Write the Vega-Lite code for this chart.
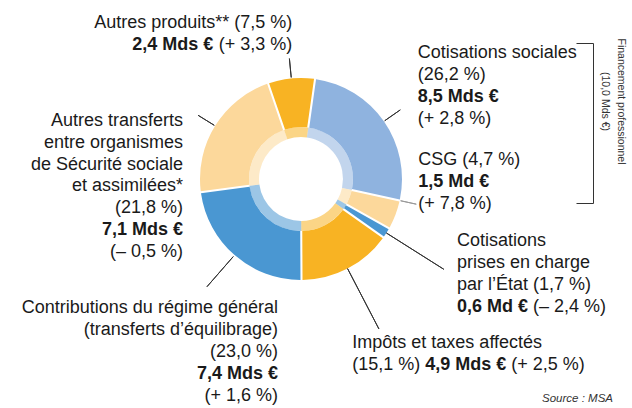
{
  "$schema": "https://vega.github.io/schema/vega-lite/v6.json",
  "width": 602,
  "height": 358,
  "autosize": "none",
  "padding": {"left": 0, "top": 0, "right": 30, "bottom": 50},
  "background": "#ffffff",
  "config": {
    "view": {"stroke": null},
    "text": {"font": "Liberation Sans", "fontSize": 18, "color": "#1a1a1a", "lineHeight": 22}
  },
  "title": {
    "text": "Source : MSA",
    "orient": "bottom",
    "anchor": "end",
    "frame": "group",
    "font": "Liberation Sans",
    "fontSize": 11.5,
    "fontStyle": "italic",
    "fontWeight": "normal",
    "color": "#333333",
    "offset": -39,
    "dx": 11
  },
  "data": {
    "values": [
      {"n": 1, "cat": "Cotisations sociales", "share": 26.2, "amount": 8.5, "label": "Cotisations sociales\n(26,2 %)", "amountText": "8,5 Mds €", "change": "(+ 2,8 %)"},
      {"n": 2, "cat": "CSG", "share": 4.7, "amount": 1.5, "label": "CSG (4,7 %)", "amountText": "1,5 Md €", "change": "(+ 7,8 %)"},
      {"n": 3, "cat": "Cotisations prises en charge par l’État", "share": 1.7, "amount": 0.6, "label": "Cotisations\nprises en charge\npar l’État (1,7 %)", "amountText": "0,6 Md €", "change": "(– 2,4 %)"},
      {"n": 4, "cat": "Impôts et taxes affectés", "share": 15.1, "amount": 4.9, "label": "Impôts et taxes affectés\n(15,1 %)", "amountText": "4,9 Mds €", "change": "(+ 2,5 %)"},
      {"n": 5, "cat": "Contributions du régime général", "share": 23.0, "amount": 7.4, "label": "Contributions du régime général\n(transferts d’équilibrage)\n(23,0 %)", "amountText": "7,4 Mds €", "change": "(+ 1,6 %)"},
      {"n": 6, "cat": "Autres transferts entre organismes de Sécurité sociale et assimilées", "share": 21.8, "amount": 7.1, "label": "Autres transferts\nentre organismes\nde Sécurité sociale\net assimilées*\n(21,8 %)", "amountText": "7,1 Mds €", "change": "(– 0,5 %)"},
      {"n": 7, "cat": "Autres produits", "share": 7.5, "amount": 2.4, "label": "Autres produits** (7,5 %)", "amountText": "2,4 Mds €", "change": "(+ 3,3 %)"}
    ]
  },
  "layer": [
    {
      "encoding": {
        "theta": {"field": "share", "type": "quantitative", "stack": true, "scale": {"domain": [0, 100], "range": [0.13963, 6.42282]}},
        "order": {"field": "n", "type": "quantitative"}
      },
      "layer": [
        {
          "mark": {"type": "arc", "innerRadius": 42, "outerRadius": 52, "opacity": 0.55},
          "encoding": {
            "color": {"field": "cat", "type": "nominal", "legend": null,
              "scale": {
                "domain": ["Cotisations sociales", "CSG", "Cotisations prises en charge par l’État", "Impôts et taxes affectés", "Contributions du régime général", "Autres transferts entre organismes de Sécurité sociale et assimilées", "Autres produits"],
                "range": ["#8fb3df", "#fcd89b", "#4a97d2", "#f8b323", "#4a97d2", "#fcd89b", "#f8b323"]
              }}
          }
        },
        {
          "mark": {"type": "arc", "innerRadius": 52, "outerRadius": 101, "padAngle": 0.018},
          "encoding": {
            "color": {"field": "cat", "type": "nominal", "legend": null,
              "scale": {
                "domain": ["Cotisations sociales", "CSG", "Cotisations prises en charge par l’État", "Impôts et taxes affectés", "Contributions du régime général", "Autres transferts entre organismes de Sécurité sociale et assimilées", "Autres produits"],
                "range": ["#8fb3df", "#fcd89b", "#4a97d2", "#f8b323", "#4a97d2", "#fcd89b", "#f8b323"]
              }}
          }
        },
        {
          "mark": {"type": "arc", "innerRadius": 102, "outerRadius": 121, "padAngle": 3.1, "fillOpacity": 0, "stroke": "#333333", "strokeWidth": 1},
          "encoding": {"strokeOpacity": {"condition": {"test": "datum.n === 1 || datum.n === 6 || datum.n === 7", "value": 1}, "value": 0}}
        },
        {
          "mark": {"type": "arc", "innerRadius": 101, "outerRadius": 169, "padAngle": 3.1, "fillOpacity": 0, "stroke": "#333333", "strokeWidth": 1},
          "encoding": {"strokeOpacity": {"condition": {"test": "datum.n === 3 || datum.n === 4", "value": 1}, "value": 0}}
        },
        {
          "mark": {"type": "arc", "innerRadius": 103, "outerRadius": 143, "padAngle": 3.1, "fillOpacity": 0, "stroke": "#333333", "strokeWidth": 1},
          "encoding": {"strokeOpacity": {"condition": {"test": "datum.n === 5", "value": 1}, "value": 0}}
        },
        {
          "transform": [
            {"stack": "share", "groupby": [], "sort": [{"field": "n", "order": "ascending"}], "as": ["s0", "s1"]},
            {"filter": "datum.n === 2"}
          ],
          "mark": {"type": "arc", "innerRadius": 102, "outerRadius": 118, "fillOpacity": 0, "stroke": "#999999", "strokeWidth": 1},
          "encoding": {
            "theta": {"field": "s0", "type": "quantitative", "stack": null, "scale": {"domain": [0, 100], "range": [0.13963, 6.42282]}},
            "theta2": {"field": "s0"}
          }
        },
        {
          "mark": {"type": "text", "radius": 122, "align": "right", "baseline": "alphabetic", "dx": 3, "dy": -30, "lineBreak": "\n"},
          "encoding": {"text": {"condition": {"test": "datum.n === 7", "field": "label", "type": "nominal"}, "value": ""}}
        },
        {
          "mark": {"type": "text", "radius": 122, "align": "right", "baseline": "alphabetic", "dx": -76, "dy": -8, "fontWeight": "bold"},
          "encoding": {"text": {"condition": {"test": "datum.n === 7", "field": "amountText", "type": "nominal"}, "value": ""}}
        },
        {
          "mark": {"type": "text", "radius": 122, "align": "right", "baseline": "alphabetic", "dx": 3, "dy": -8},
          "encoding": {"text": {"condition": {"test": "datum.n === 7", "field": "change", "type": "nominal"}, "value": ""}}
        },
        {
          "mark": {"type": "text", "radius": 130, "align": "left", "baseline": "alphabetic", "dx": 10, "dy": -47, "lineBreak": "\n"},
          "encoding": {"text": {"condition": {"test": "datum.n === 1", "field": "label", "type": "nominal"}, "value": ""}}
        },
        {
          "mark": {"type": "text", "radius": 130, "align": "left", "baseline": "alphabetic", "dx": 10, "dy": -3, "fontWeight": "bold"},
          "encoding": {"text": {"condition": {"test": "datum.n === 1", "field": "amountText", "type": "nominal"}, "value": ""}}
        },
        {
          "mark": {"type": "text", "radius": 130, "align": "left", "baseline": "alphabetic", "dx": 10, "dy": 19},
          "encoding": {"text": {"condition": {"test": "datum.n === 1", "field": "change", "type": "nominal"}, "value": ""}}
        },
        {
          "mark": {"type": "text", "radius": 118, "align": "left", "baseline": "alphabetic", "dx": 7, "dy": -56, "lineBreak": "\n"},
          "encoding": {"text": {"condition": {"test": "datum.n === 2", "field": "label", "type": "nominal"}, "value": ""}}
        },
        {
          "mark": {"type": "text", "radius": 118, "align": "left", "baseline": "alphabetic", "dx": 7, "dy": -34, "fontWeight": "bold"},
          "encoding": {"text": {"condition": {"test": "datum.n === 2", "field": "amountText", "type": "nominal"}, "value": ""}}
        },
        {
          "mark": {"type": "text", "radius": 118, "align": "left", "baseline": "alphabetic", "dx": 7, "dy": -12},
          "encoding": {"text": {"condition": {"test": "datum.n === 2", "field": "change", "type": "nominal"}, "value": ""}}
        },
        {
          "mark": {"type": "text", "radius": 168, "align": "left", "baseline": "alphabetic", "dx": 14, "dy": -23, "lineBreak": "\n"},
          "encoding": {"text": {"condition": {"test": "datum.n === 3", "field": "label", "type": "nominal"}, "value": ""}}
        },
        {
          "mark": {"type": "text", "radius": 168, "align": "left", "baseline": "alphabetic", "dx": 14, "dy": 43, "fontWeight": "bold"},
          "encoding": {"text": {"condition": {"test": "datum.n === 3", "field": "amountText", "type": "nominal"}, "value": ""}}
        },
        {
          "mark": {"type": "text", "radius": 168, "align": "left", "baseline": "alphabetic", "dx": 90, "dy": 43},
          "encoding": {"text": {"condition": {"test": "datum.n === 3", "field": "change", "type": "nominal"}, "value": ""}}
        },
        {
          "mark": {"type": "text", "radius": 172, "align": "left", "baseline": "alphabetic", "dx": -28, "dy": 16, "lineBreak": "\n"},
          "encoding": {"text": {"condition": {"test": "datum.n === 4", "field": "label", "type": "nominal"}, "value": ""}}
        },
        {
          "mark": {"type": "text", "radius": 172, "align": "left", "baseline": "alphabetic", "dx": 45, "dy": 38, "fontWeight": "bold"},
          "encoding": {"text": {"condition": {"test": "datum.n === 4", "field": "amountText", "type": "nominal"}, "value": ""}}
        },
        {
          "mark": {"type": "text", "radius": 172, "align": "left", "baseline": "alphabetic", "dx": 131, "dy": 38},
          "encoding": {"text": {"condition": {"test": "datum.n === 4", "field": "change", "type": "nominal"}, "value": ""}}
        },
        {
          "mark": {"type": "text", "radius": 143, "align": "right", "baseline": "alphabetic", "dx": 71, "dy": 26, "lineBreak": "\n"},
          "encoding": {"text": {"condition": {"test": "datum.n === 5", "field": "label", "type": "nominal"}, "value": ""}}
        },
        {
          "mark": {"type": "text", "radius": 143, "align": "right", "baseline": "alphabetic", "dx": 71, "dy": 92, "fontWeight": "bold"},
          "encoding": {"text": {"condition": {"test": "datum.n === 5", "field": "amountText", "type": "nominal"}, "value": ""}}
        },
        {
          "mark": {"type": "text", "radius": 143, "align": "right", "baseline": "alphabetic", "dx": 71, "dy": 114},
          "encoding": {"text": {"condition": {"test": "datum.n === 5", "field": "change", "type": "nominal"}, "value": ""}}
        },
        {
          "mark": {"type": "text", "radius": 121, "align": "right", "baseline": "alphabetic", "dx": -15, "dy": 11, "lineHeight": 21.7, "lineBreak": "\n"},
          "encoding": {"text": {"condition": {"test": "datum.n === 6", "field": "label", "type": "nominal"}, "value": ""}}
        },
        {
          "mark": {"type": "text", "radius": 121, "align": "right", "baseline": "alphabetic", "dx": -15, "dy": 120, "fontWeight": "bold"},
          "encoding": {"text": {"condition": {"test": "datum.n === 6", "field": "amountText", "type": "nominal"}, "value": ""}}
        },
        {
          "mark": {"type": "text", "radius": 121, "align": "right", "baseline": "alphabetic", "dx": -15, "dy": 142},
          "encoding": {"text": {"condition": {"test": "datum.n === 6", "field": "change", "type": "nominal"}, "value": ""}}
        }
      ]
    },
    {
      "transform": [{"filter": "datum.n <= 2"}],
      "mark": {"type": "point", "opacity": 0},
      "encoding": {
        "y": {
          "aggregate": "sum", "field": "amount", "type": "quantitative",
          "scale": {"domain": [0, 10], "range": [203, 43]},
          "axis": {
            "orient": "left", "offset": -593, "values": [0, 10], "labels": false, "grid": false,
            "domain": true, "domainColor": "#333333", "domainWidth": 1,
            "ticks": true, "tickSize": 17, "tickColor": "#333333", "tickWidth": 1,
            "title": ["Financement professionnel", "(10,0 Mds €)"],
            "titleAngle": 90, "titleX": 22, "titleY": 101, "titleAlign": "center", "titleBaseline": "bottom",
            "titleFont": "Liberation Sans", "titleFontSize": 10.5, "titleFontWeight": "normal",
            "titleColor": "#333333", "titleLineHeight": 16
          }
        }
      }
    }
  ]
}
